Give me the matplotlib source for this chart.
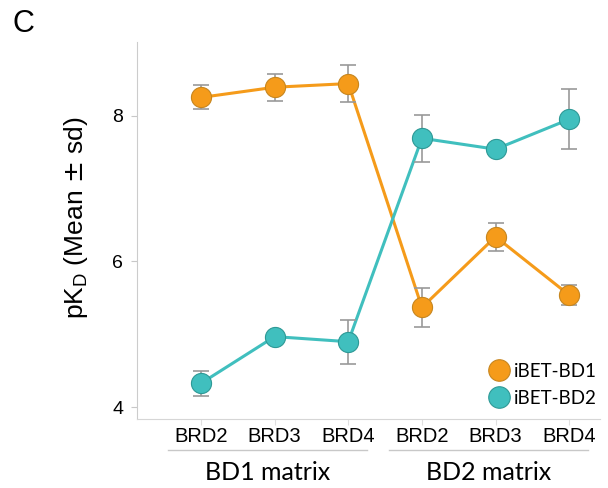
import numpy as np
import matplotlib
matplotlib.use("Agg")
import matplotlib.pyplot as plt
from matplotlib.lines import Line2D
import matplotlib.transforms as mtransforms

# target labels and pKD values (mean, sd) per compound
targets = ['BRD2', 'BRD3', 'BRD4', 'BRD2', 'BRD3', 'BRD4']
groups = ['BD1 matrix', 'BD2 matrix']
bd1_mean = [8.25, 8.39, 8.44, 5.37, 6.34, 5.54]
bd1_sd = [0.165, 0.185, 0.25, 0.265, 0.19, 0.14]
bd2_mean = [4.33, 4.97, 4.90, 7.69, 7.54, 7.95]
bd2_sd = [0.17, 0.04, 0.30, 0.32, 0.07, 0.41]

orange = '#F59B1A'
orange_edge = '#C7861F'
teal = '#40BFBE'
teal_edge = '#2E9996'
grey = '#999999'

plt.rcParams['font.family'] = ['Liberation Sans', 'DejaVu Sans']

fig = plt.figure(figsize=(6.08, 4.88), dpi=100)
ax = fig.add_axes([0.2253, 0.1414, 0.7617, 0.7725])

x = np.arange(len(targets))

# lines
ax.plot(x, bd1_mean, color=orange, lw=2.2, zorder=2)
ax.plot(x, bd2_mean, color=teal, lw=2.2, zorder=2)

# error bars
ax.errorbar(x, bd1_mean, yerr=bd1_sd, fmt='none', ecolor=grey, elinewidth=1.2,
            capsize=5.8, capthick=1.2, zorder=3)
ax.errorbar(x, bd2_mean, yerr=bd2_sd, fmt='none', ecolor=grey, elinewidth=1.2,
            capsize=5.8, capthick=1.2, zorder=3)

# markers
ax.plot(x, bd1_mean, 'o', ms=14.5, mfc=orange, mec=orange_edge, mew=0.8, zorder=4)
ax.plot(x, bd2_mean, 'o', ms=14.5, mfc=teal, mec=teal_edge, mew=0.8, zorder=4)

ax.set_xlim(-0.87, 5.42)
ax.set_ylim(3.84, 9.01)
ax.set_yticks([4, 6, 8])
ax.set_xticks(x)
ax.set_xticklabels(targets, fontsize=14.5)
ax.tick_params(axis='y', labelsize=14, length=4, color='#c8c8c8', pad=6)
ax.tick_params(axis='x', length=4, color='#e0e0e0', pad=2)

for s in ['top', 'right']:
    ax.spines[s].set_visible(False)
ax.spines['left'].set_color('#cccccc')
ax.spines['bottom'].set_color('#d6d6d6')

ax.set_ylabel(r'pK$_\mathregular{D}$ (Mean $\pm$ sd)', fontsize=19)
ax.yaxis.set_label_coords(-0.102, 0.534)

# group lines and labels under the axis
trans = mtransforms.blended_transform_factory(ax.transData, ax.transAxes)
spans = [(-0.45, 2.25), (2.55, 5.26)]
for (a, b), g in zip(spans, groups):
    ax.add_line(Line2D([a, b], [-0.082, -0.082], transform=trans, color='#c8c8c8',
                       lw=1, clip_on=False))
    ax.text((a + b) / 2, -0.143, g, transform=trans, ha='center', va='center',
            fontsize=18, family=['Lato', 'DejaVu Sans'])

# legend
handles = [Line2D([], [], ls='none', marker='o', ms=15.5, mfc=orange, mec=orange_edge, mew=0.8),
           Line2D([], [], ls='none', marker='o', ms=15.5, mfc=teal, mec=teal_edge, mew=0.8)]
leg = ax.legend(handles, ['iBET-BD1', 'iBET-BD2'], loc='lower right',
                bbox_to_anchor=(1.01, 0.012), frameon=False, handlelength=1.0,
                handletextpad=0.3, labelspacing=0.55, borderaxespad=0,
                prop={'family': ['Lato', 'DejaVu Sans'], 'size': 13.5})

fig.text(0.02, 0.95, 'C', fontsize=22, va='center', ha='left')

fig.savefig('out.png', dpi=100)
